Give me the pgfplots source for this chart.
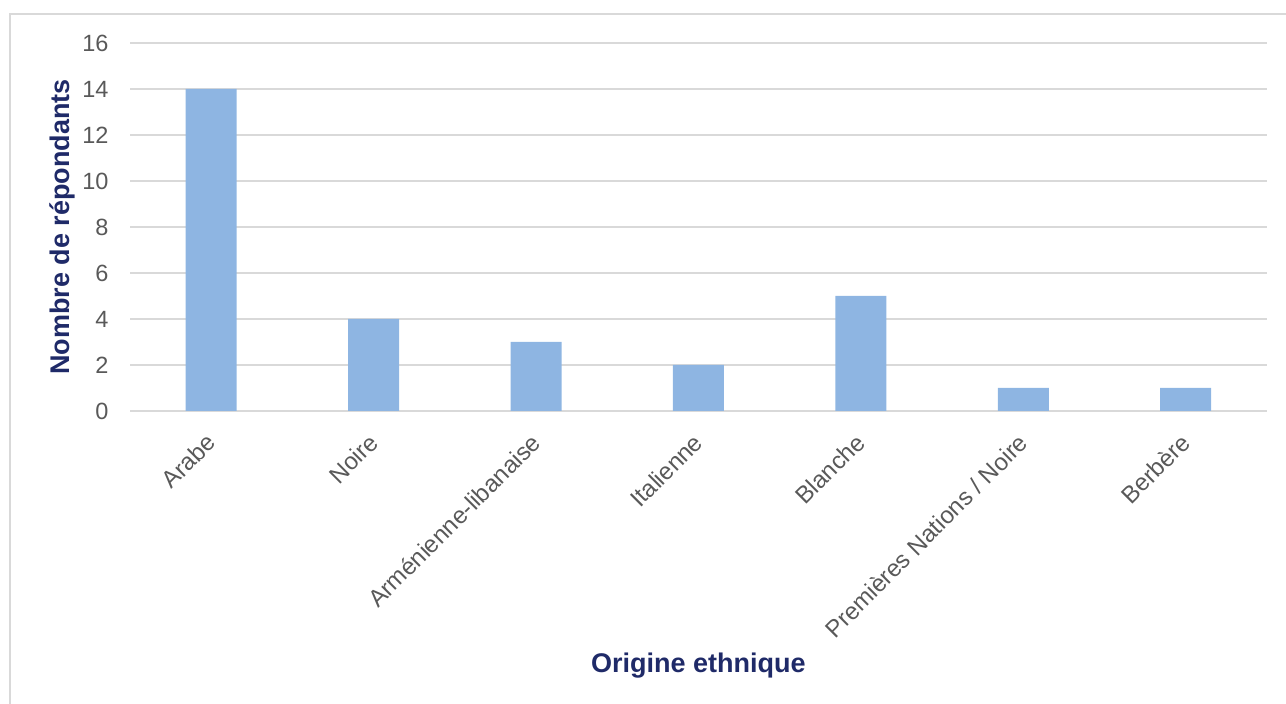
\documentclass[border=0pt]{standalone}
\usepackage{pgfplots}
\pgfplotsset{compat=1.18}
\usepackage{fontspec}
\setmainfont{Liberation Sans}
\definecolor{barblue}{RGB}{142,181,226}
\definecolor{gridgray}{RGB}{217,217,217}
\definecolor{ticktext}{RGB}{89,89,89}
\definecolor{navy}{RGB}{31,42,104}
\begin{document}
\begin{tikzpicture}
\useasboundingbox (0,0) rectangle (1286pt,704pt);
\draw[gridgray, line width=1.5pt] (10pt,0pt) -- (10pt,690pt) -- (1286pt,690pt);
\begin{axis}[
  at={(130pt,293pt)}, anchor=south west,
  scale only axis, width=1137pt, height=368pt,
  xmin=-0.5, xmax=6.5, ymin=0, ymax=16,
  ytick={0,2,...,16},
  xtick=data,
  xticklabels={Arabe,Noire,Arménienne-libanaise,Italienne,Blanche,Premières Nations / Noire,Berbère},
  axis x line=bottom, axis y line=left,
  x axis line style={draw=gridgray, line width=1.5pt, -},
  y axis line style={draw=none},
  major tick length=0pt,
  ymajorgrids, grid style={gridgray, line width=1.5pt},
  /pgf/number format/assume math mode=true,
  ticklabel style={font=\fontsize{23.5}{27}\selectfont, text=ticktext},
  yticklabel style={xshift=-18pt},
  xticklabel style={font=\fontsize{24}{28}\selectfont, rotate=45, anchor=north east, xshift=-16pt, yshift=-7pt},
  xlabel={\textbf{Origine ethnique}},
  xlabel style={font=\fontsize{27}{31}\selectfont, text=navy, at={(axis description cs:0.5,-0.693)}, anchor=center},
  ylabel={\textbf{Nombre de répondants}},
  ylabel style={font=\fontsize{27}{31}\selectfont, text=navy, at={(axis description cs:-0.0598,0.5)}, anchor=center, rotate=0},
]
\addplot[ybar, bar width=51pt, fill=barblue, draw=none] coordinates {
(0,14) (1,4) (2,3) (3,2) (4,5) (5,1) (6,1)
};
\end{axis}
\end{tikzpicture}
\end{document}
